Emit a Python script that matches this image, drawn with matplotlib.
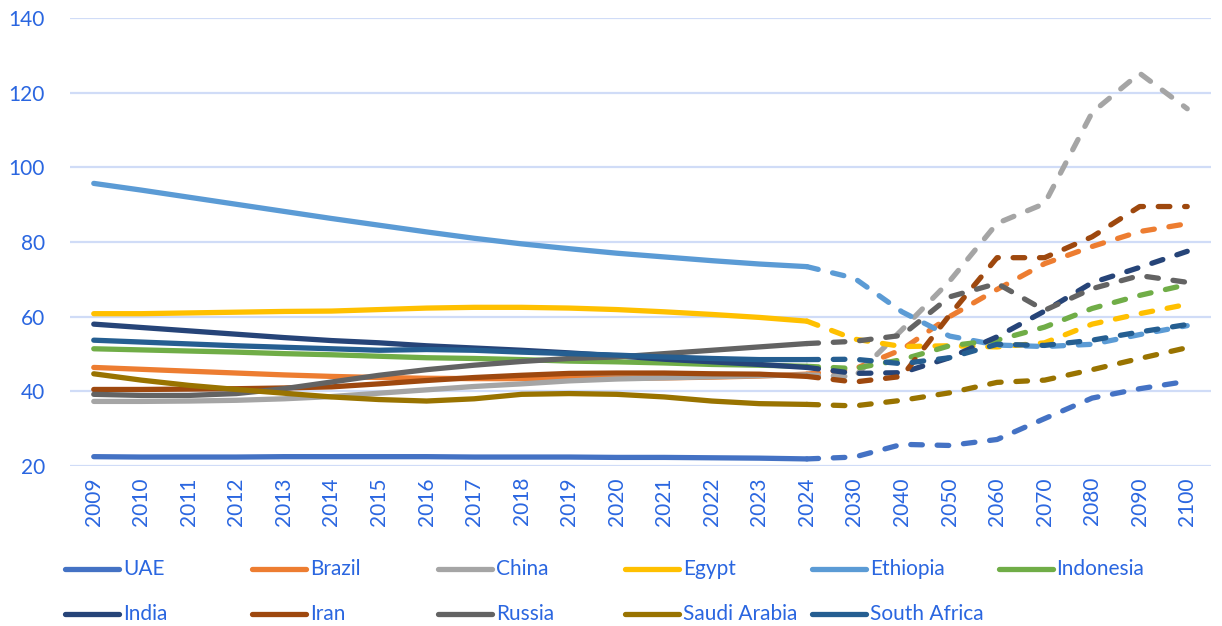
import matplotlib.pyplot as plt
from matplotlib.lines import Line2D

years = ["2009", "2010", "2011", "2012", "2013", "2014", "2015", "2016",
         "2017", "2018", "2019", "2020", "2021", "2022", "2023", "2024",
         "2030", "2040", "2050", "2060", "2070", "2080", "2090", "2100"]

countries = ["UAE", "Brazil", "China", "Egypt", "Ethiopia", "Indonesia",
             "India", "Iran", "Russia", "Saudi Arabia", "South Africa"]

uae = [22.5, 22.4, 22.4, 22.4, 22.5, 22.5, 22.5, 22.5, 22.4, 22.4, 22.4, 22.3,
       22.3, 22.2, 22.1, 21.9, 22.4, 25.8, 25.5, 27.1, 32.7, 38.2, 40.7, 42.7]
brazil = [46.4, 45.9, 45.4, 44.9, 44.4, 44.0, 43.7, 43.5, 43.4, 43.4, 43.4, 43.5,
          43.6, 43.8, 44.1, 44.6, 46.0, 51.2, 60.0, 67.3, 74.2, 78.8, 82.8, 84.9]
china = [37.3, 37.3, 37.4, 37.6, 38.0, 38.6, 39.5, 40.4, 41.3, 42.0, 42.8, 43.3,
         43.6, 43.9, 44.2, 44.4, 43.9, 56.5, 69.5, 85.0, 90.3, 114.7, 125.2, 115.7]
egypt = [60.8, 60.8, 61.0, 61.2, 61.4, 61.5, 61.9, 62.3, 62.5, 62.5, 62.3, 61.9,
         61.3, 60.6, 59.8, 58.8, 54.0, 52.0, 52.2, 51.9, 53.0, 58.0, 60.8, 63.3]
ethiopia = [95.7, 93.9, 92.0, 90.1, 88.2, 86.3, 84.5, 82.7, 81.0, 79.5, 78.2, 77.0,
            76.0, 75.0, 74.1, 73.4, 70.3, 61.3, 54.8, 52.4, 52.0, 52.6, 55.2, 57.6]
indonesia = [51.4, 51.1, 50.8, 50.5, 50.1, 49.8, 49.4, 49.0, 48.8, 48.5, 48.1, 47.9,
             47.6, 47.2, 47.0, 46.7, 46.1, 48.5, 52.2, 53.7, 57.2, 62.2, 65.7, 68.6]
india = [58.0, 57.1, 56.2, 55.3, 54.4, 53.6, 53.0, 52.2, 51.6, 51.0, 50.3, 49.5,
         48.6, 47.9, 47.2, 46.4, 44.8, 45.0, 49.0, 54.6, 61.5, 69.1, 73.2, 77.5]
iran = [40.5, 40.5, 40.6, 40.7, 40.9, 41.2, 42.0, 42.9, 43.7, 44.3, 44.8, 44.9,
        44.9, 44.7, 44.6, 44.0, 42.5, 44.0, 60.4, 75.8, 75.8, 81.4, 89.5, 89.5]
russia = [39.2, 38.9, 38.9, 39.4, 40.7, 42.5, 44.3, 45.8, 47.0, 48.0, 48.8, 49.2,
          50.1, 51.0, 51.9, 52.8, 53.4, 55.0, 65.3, 68.9, 61.7, 67.5, 71.0, 69.2]
saudi = [44.7, 43.0, 41.6, 40.5, 39.5, 38.5, 37.8, 37.4, 38.0, 39.2, 39.4, 39.2,
         38.5, 37.4, 36.7, 36.5, 36.1, 37.6, 39.6, 42.4, 43.0, 45.8, 48.8, 51.7]
south_africa = [53.7, 53.2, 52.7, 52.2, 51.8, 51.4, 51.0, 51.2, 51.0, 50.5, 50.1, 49.7,
                49.2, 48.8, 48.5, 48.5, 48.6, 47.4, 49.0, 52.6, 52.3, 53.7, 55.9, 57.9]

series = [uae, brazil, china, egypt, ethiopia, indonesia,
          india, iran, russia, saudi, south_africa]
colors = ["#4472C4", "#ED7D31", "#A5A5A5", "#FFC000", "#5B9BD5", "#70AD47",
          "#264478", "#9E480E", "#636363", "#997300", "#255E91"]

split = years.index("2024")
text_blue = "#2A66E0"
font = "Lato"

fig = plt.figure(figsize=(12.22, 6.26), dpi=100)
ax = fig.add_axes([70 / 1222, 1 - 466 / 626, 1141 / 1222, 448 / 626])

x = list(range(len(years)))
for vals, col in zip(series, colors):
    # measured years solid, projections dashed (both include 2024)
    ax.plot(x[:split + 1], vals[:split + 1], color=col, lw=3.8,
            solid_capstyle="round", solid_joinstyle="round")
    ax.plot(x[split:], vals[split:], color=col, lw=3.8, linestyle=(0, (2.2, 2.8)),
            dash_capstyle="round", dash_joinstyle="round")

ax.set_xlim(-0.5, len(years) - 0.5)
ax.set_ylim(20, 140)
ax.set_yticks(range(20, 141, 20))
ax.set_xticks(x)
ax.set_xticklabels(years, rotation=90)
ax.grid(axis="y", color="#D0DCF7", lw=1.6)
ax.set_axisbelow(True)
for s in ax.spines.values():
    s.set_visible(False)
ax.tick_params(axis="both", length=0, labelcolor=text_blue, labelsize=15)
ax.tick_params(axis="y", pad=18)
ax.tick_params(axis="x", pad=8)
for lab in ax.get_xticklabels() + ax.get_yticklabels():
    lab.set_fontfamily(font)

# legend drawn by hand so the columns have Excel's fixed pitch
for k, (name, col) in enumerate(zip(countries, colors)):
    row, c = divmod(k, 6)
    x0 = 65 + 186.7 * c
    y0 = 569 + 45 * row
    fig.add_artist(Line2D([x0 / 1222, (x0 + 54) / 1222], [1 - y0 / 626, 1 - y0 / 626],
                          color=col, lw=3.8, solid_capstyle="round",
                          transform=fig.transFigure))
    fig.text((x0 + 58) / 1222, 1 - y0 / 626, name, color=text_blue, fontsize=15,
             family=font, va="center", ha="left")

fig.savefig("out.png", dpi=100)
